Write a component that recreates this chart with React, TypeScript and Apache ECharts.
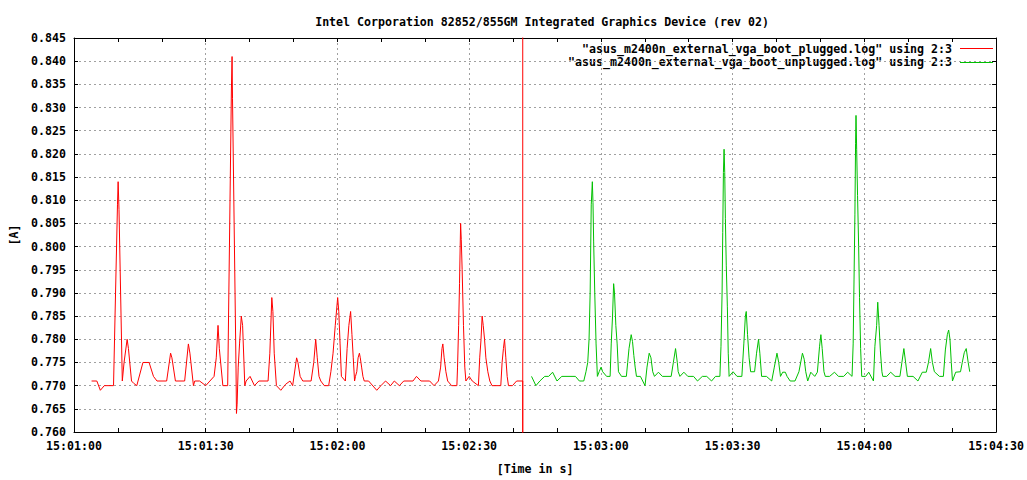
import React, { useEffect, useRef } from "react";
import * as echarts from "echarts";

// seconds after 15:01:00, current [A]
const START_SECONDS = 15 * 3600 + 60;

const titleText = "Intel Corporation 82852/855GM Integrated Graphics Device (rev 02)";
const pluggedName = '"asus_m2400n_external_vga_boot_plugged.log" using 2:3';
const unpluggedName = '"asus_m2400n_external_vga_boot_unplugged.log" using 2:3';
const xAxisName = "[Time in s]";
const yAxisName = "[A]";

const pluggedSamples: [number, number][] = [
  [4.0, 0.771], [5.2, 0.771], [6.0, 0.769], [6.9, 0.770], [9.0, 0.770], [9.9, 0.809], [10.05, 0.814],
  [10.25, 0.808], [11.0, 0.771], [11.4, 0.775], [12.1, 0.780], [12.4, 0.778], [13.1, 0.771], [13.6, 0.7705],
  [14.3, 0.770], [15.7, 0.775], [17.1, 0.775], [18.1, 0.772], [18.9, 0.771], [21.1, 0.771], [22.0, 0.777],
  [22.3, 0.776], [23.1, 0.771], [25.2, 0.771], [26.05, 0.779], [26.4, 0.777], [27.2, 0.770], [27.5, 0.771],
  [28.6, 0.771], [30.0, 0.770], [31.9, 0.772], [32.4, 0.776], [32.8, 0.783], [33.1, 0.778], [33.9, 0.770],
  [35.0, 0.770], [35.85, 0.834], [36.0, 0.841], [36.1, 0.832], [36.9, 0.7736], [37.0, 0.764], [37.15, 0.766],
  [37.4, 0.774], [37.7, 0.779], [38.1, 0.785], [38.4, 0.783], [38.9, 0.770], [39.2, 0.771], [40.1, 0.772],
  [41.1, 0.770], [42.1, 0.771], [44.2, 0.771], [44.6, 0.777], [45.05, 0.789], [45.3, 0.786], [45.6, 0.777],
  [46.1, 0.770], [46.6, 0.7695], [47.1, 0.769], [48.2, 0.7703], [49.2, 0.771], [49.8, 0.770], [50.7, 0.776],
  [51.0, 0.775], [51.5, 0.772], [52.1, 0.771], [54.0, 0.771], [54.6, 0.775], [55.05, 0.780], [55.4, 0.776],
  [55.8, 0.772], [56.2, 0.771], [57.0, 0.770], [58.0, 0.770], [58.5, 0.773], [59.0, 0.777], [59.5, 0.783],
  [60.05, 0.789], [60.3, 0.786], [60.6, 0.779], [60.9, 0.772], [61.8, 0.771], [62.2, 0.778], [62.6, 0.783],
  [63.0, 0.786], [63.3, 0.781], [63.6, 0.776], [63.9, 0.771], [64.1, 0.772], [64.4, 0.773], [64.7, 0.776],
  [65.0, 0.777], [65.2, 0.776], [65.5, 0.774], [65.8, 0.772], [66.1, 0.771], [67.1, 0.771], [68.95, 0.769],
  [69.9, 0.770], [70.95, 0.771], [72.1, 0.770], [72.95, 0.771], [74.1, 0.770], [75.1, 0.771], [77.2, 0.771],
  [78.0, 0.772], [79.0, 0.771], [81.0, 0.771], [82.0, 0.770], [83.0, 0.771], [83.5, 0.774], [83.8, 0.778],
  [84.0, 0.779], [84.3, 0.776], [84.7, 0.773], [85.1, 0.771], [86.0, 0.770], [87.2, 0.770], [87.35, 0.774],
  [87.6, 0.783], [87.8, 0.792], [87.95, 0.800], [88.05, 0.805], [88.2, 0.8015], [88.4, 0.795], [88.7, 0.783],
  [89.0, 0.774], [89.25, 0.771], [90.0, 0.772], [90.7, 0.771], [92.1, 0.770], [92.4, 0.776], [92.7, 0.780],
  [92.95, 0.785], [93.2, 0.783], [93.5, 0.780], [93.8, 0.776], [94.25, 0.773], [94.7, 0.771], [95.2, 0.770],
  [97.2, 0.770], [97.5, 0.775], [97.8, 0.778], [98.05, 0.780], [98.35, 0.776], [98.65, 0.772], [98.95, 0.770],
  [99.85, 0.770], [100.8, 0.771], [102.2, 0.771], [102.2, 0.70], [102.2, 0.90],
];

const unpluggedSamples: [number, number][] = [
  [104.2, 0.772], [105.2, 0.770], [106.1, 0.771], [107.2, 0.772], [108.1, 0.772], [109.0, 0.7729], [110.0, 0.771],
  [111.1, 0.772], [114.2, 0.772], [115.1, 0.771], [116.1, 0.771], [116.6, 0.773], [117.0, 0.775], [117.3, 0.780],
  [117.55, 0.790], [117.8, 0.809], [118.05, 0.814], [118.2, 0.8095], [118.35, 0.801], [118.6, 0.790], [118.9, 0.779],
  [119.2, 0.772], [119.6, 0.773], [120.05, 0.774], [120.4, 0.773], [121.3, 0.772], [122.1, 0.772], [122.35, 0.779],
  [122.65, 0.785], [122.9, 0.792], [123.1, 0.790], [123.4, 0.783], [123.7, 0.779], [124.0, 0.773], [124.7, 0.772],
  [125.8, 0.772], [126.1, 0.775], [126.4, 0.778], [126.9, 0.781], [127.2, 0.7795], [127.5, 0.7765], [127.8, 0.774],
  [128.1, 0.772], [129.0, 0.772], [130.05, 0.770], [130.5, 0.774], [131.0, 0.777], [131.4, 0.776], [131.8, 0.773],
  [132.2, 0.772], [133.1, 0.7729], [134.0, 0.772], [136.0, 0.772], [136.5, 0.775], [137.0, 0.778], [137.4, 0.775],
  [137.6, 0.773], [138.0, 0.772], [138.9, 0.7729], [139.8, 0.772], [141.1, 0.772], [142.0, 0.771], [143.1, 0.772],
  [144.1, 0.772], [145.2, 0.771], [146.1, 0.772], [147.1, 0.772], [147.35, 0.7785], [147.6, 0.790], [147.75, 0.803],
  [147.9, 0.816], [148.05, 0.821], [148.2, 0.816], [148.35, 0.806], [148.55, 0.796], [148.8, 0.787], [149.0, 0.777],
  [149.2, 0.772], [150.1, 0.773], [151.0, 0.772], [152.1, 0.772], [152.55, 0.779], [152.9, 0.785], [153.1, 0.786],
  [153.4, 0.781], [153.75, 0.776], [154.1, 0.773], [155.0, 0.773], [155.45, 0.777], [155.9, 0.780], [156.2, 0.777],
  [156.6, 0.772], [157.7, 0.772], [158.9, 0.771], [159.5, 0.774], [160.1, 0.777], [160.5, 0.775], [160.9, 0.772],
  [161.4, 0.7729], [162.0, 0.7729], [162.4, 0.772], [163.1, 0.771], [164.2, 0.771], [165.1, 0.773], [165.9, 0.777],
  [166.3, 0.7757], [166.65, 0.773], [167.1, 0.771], [167.8, 0.7729], [168.7, 0.772], [169.3, 0.7729], [169.8, 0.7785],
  [170.1, 0.781], [170.4, 0.778], [170.8, 0.773], [171.1, 0.772], [172.1, 0.772], [173.2, 0.7729], [174.1, 0.772],
  [175.3, 0.772], [176.2, 0.7729], [177.2, 0.772], [177.45, 0.779], [177.65, 0.793], [177.85, 0.807], [178.0, 0.8223],
  [178.1, 0.8283], [178.25, 0.821], [178.45, 0.811], [178.7, 0.800], [178.9, 0.789], [179.15, 0.778], [179.4, 0.772],
  [180.3, 0.772], [181.0, 0.7729], [182.07, 0.771], [182.4, 0.7785], [182.8, 0.783], [183.05, 0.788], [183.35, 0.783],
  [183.65, 0.7775], [184.0, 0.773], [184.2, 0.772], [185.1, 0.772], [186.0, 0.7729], [187.0, 0.772], [188.1, 0.772],
  [188.55, 0.775], [189.0, 0.778], [189.4, 0.775], [189.8, 0.772], [191.1, 0.772], [192.2, 0.771], [193.2, 0.7729],
  [194.1, 0.7729], [194.6, 0.775], [195.1, 0.778], [195.5, 0.775], [195.95, 0.773], [197.1, 0.772], [198.0, 0.772],
  [198.45, 0.7777], [198.9, 0.781], [199.2, 0.782], [199.5, 0.780], [199.8, 0.775], [200.07, 0.771], [200.8, 0.7729],
  [201.9, 0.773], [202.3, 0.775], [202.75, 0.7771], [203.2, 0.778], [203.65, 0.775], [204.0, 0.773],
];

const X_MIN = START_SECONDS;
const X_MAX = START_SECONDS + 210;
const X_INTERVAL = 30;
const Y_MIN = 0.76;
const Y_MAX = 0.845;
const Y_INTERVAL = 0.005;

const FONT_FAMILY = '"DejaVu Sans Mono", "Liberation Mono", monospace';
const FONT_SIZE = 11.6;

function fmtTime(v: number): string {
  const s = Math.round(v);
  const h = Math.floor(s / 3600);
  const m = Math.floor((s % 3600) / 60);
  const sec = s % 60;
  const p = (n: number) => (n < 10 ? "0" + n : String(n));
  return `${p(h)}:${p(m)}:${p(sec)}`;
}

export default function App() {
  const ref = useRef<HTMLDivElement>(null);

  useEffect(() => {
    if (!ref.current) return;
    const chart = echarts.init(ref.current, undefined, { renderer: "svg" });
    const textStyle = {
      fontFamily: FONT_FAMILY,
      fontSize: FONT_SIZE,
      fontWeight: "bold" as const,
      color: "#000",
    };
    const gridLine = {
      show: true,
      lineStyle: { color: "#a0a0a0", width: 1, type: [2, 3] as number[] },
    };
    const axisLine = { show: true, lineStyle: { color: "#000", width: 1 } };
    const tick = { show: true, inside: true, length: 4, lineStyle: { color: "#000", width: 1 } };
    const minorTick = { show: true, splitNumber: 3, length: 4, lineStyle: { color: "#000", width: 1 } };

    const toData = (arr: [number, number][]) => arr.map(([t, v]) => [START_SECONDS + t, v]);

    chart.setOption({
      animation: false,
      backgroundColor: "#fff",
      title: {
        text: titleText,
        left: 537,
        top: 11,
        textAlign: "center",
        textStyle: { ...textStyle },
      },
      grid: { left: 68, right: 21, top: 38, bottom: 40, containLabel: false },
      xAxis: [
        {
          type: "value",
          min: X_MIN,
          max: X_MAX,
          interval: X_INTERVAL,
          position: "bottom",
          axisLine,
          axisTick: tick,
          minorTick: { ...minorTick, show: true },
          splitLine: gridLine,
          axisLabel: { ...textStyle, margin: 8, formatter: (v: number) => fmtTime(v), showMaxLabel: true },
          name: xAxisName,
          nameLocation: "middle",
          nameGap: 31,
          nameTextStyle: { ...textStyle },
        },
        {
          type: "value",
          min: X_MIN,
          max: X_MAX,
          interval: X_INTERVAL,
          position: "top",
          axisLine,
          axisTick: tick,
          minorTick,
          splitLine: { show: false },
          axisLabel: { show: false },
        },
      ],
      yAxis: [
        {
          type: "value",
          min: Y_MIN,
          max: Y_MAX,
          interval: Y_INTERVAL,
          position: "left",
          axisLine,
          axisTick: tick,
          splitLine: gridLine,
          axisLabel: { ...textStyle, margin: 8, formatter: (v: number) => v.toFixed(3) },
          name: yAxisName,
          nameLocation: "middle",
          nameRotate: 90,
          nameGap: 54,
          nameTextStyle: { ...textStyle },
        },
        {
          type: "value",
          min: Y_MIN,
          max: Y_MAX,
          interval: Y_INTERVAL,
          position: "right",
          axisLine,
          axisTick: tick,
          splitLine: { show: false },
          axisLabel: { show: false },
        },
      ],
      series: [
        {
          name: pluggedName,
          type: "line",
          xAxisIndex: 0,
          yAxisIndex: 0,
          data: toData(pluggedSamples),
          showSymbol: false,
          symbol: "none",
          clip: true,
          lineStyle: { color: "#ff0000", width: 1 },
          itemStyle: { color: "#ff0000" },
        },
        {
          name: unpluggedName,
          type: "line",
          xAxisIndex: 0,
          yAxisIndex: 0,
          data: toData(unpluggedSamples),
          showSymbol: false,
          symbol: "none",
          clip: true,
          lineStyle: { color: "#00c000", width: 1 },
          itemStyle: { color: "#00c000" },
        },
      ],
      graphic: [
        {
          type: "text",
          x: 952,
          y: 48.5,
          style: {
            text: pluggedName,
            fill: "#000",
            font: `bold ${FONT_SIZE}px ${FONT_FAMILY}`,
            align: "right",
            verticalAlign: "middle",
          },
        },
        {
          type: "line",
          shape: { x1: 960, y1: 48.5, x2: 993, y2: 48.5 },
          style: { stroke: "#ff0000", lineWidth: 1 },
        },
        {
          type: "text",
          x: 952,
          y: 62,
          style: {
            text: unpluggedName,
            fill: "#000",
            font: `bold ${FONT_SIZE}px ${FONT_FAMILY}`,
            align: "right",
            verticalAlign: "middle",
          },
        },
        {
          type: "line",
          shape: { x1: 960, y1: 62.5, x2: 993, y2: 62.5 },
          style: { stroke: "#00c000", lineWidth: 1 },
        },
      ],
    });
    return () => chart.dispose();
  }, []);

  return (
    <div
      ref={ref}
      style={{ position: "absolute", left: 0, top: 0, width: 1027, height: 480, background: "#fff" }}
    />
  );
}
